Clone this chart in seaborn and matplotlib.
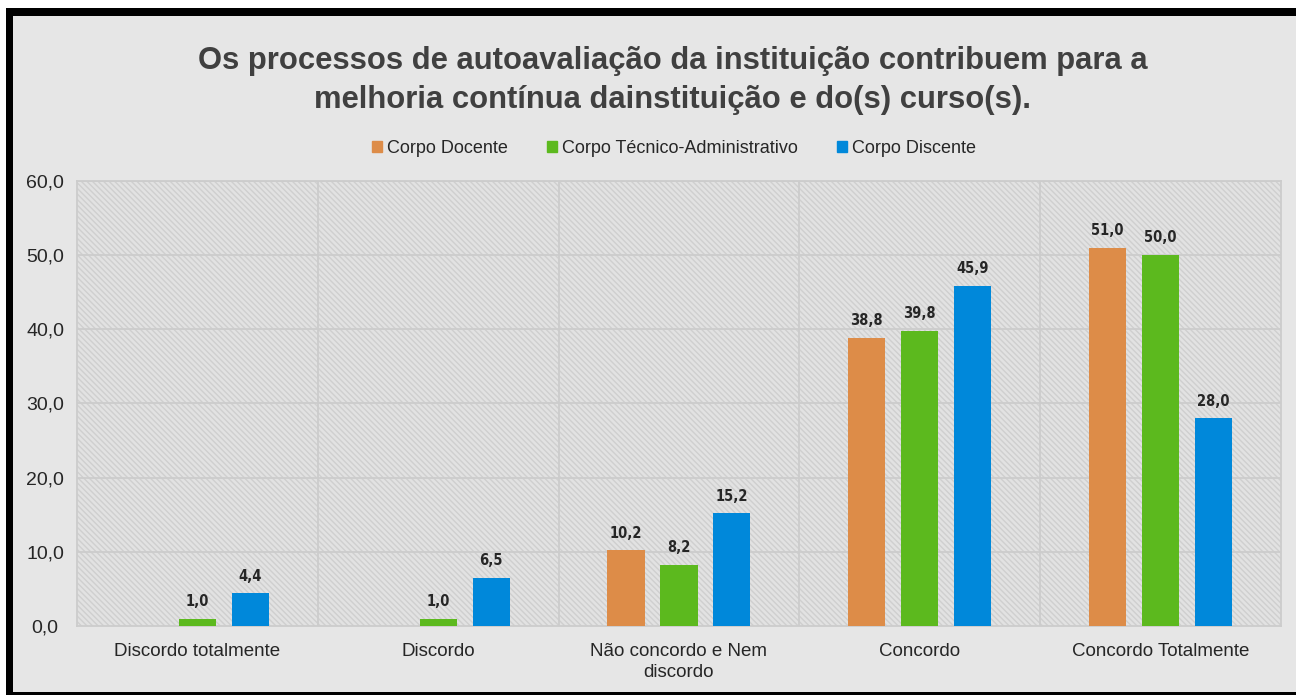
import matplotlib
matplotlib.use("Agg")
import matplotlib.pyplot as plt
from matplotlib.patches import Rectangle
import numpy as np
import pandas as pd
import seaborn as sns

categorias = ["Discordo totalmente", "Discordo", "Não concordo e Nem\ndiscordo",
              "Concordo", "Concordo Totalmente"]
grupos = ["Corpo Docente", "Corpo Técnico-Administrativo", "Corpo Discente"]
docente = [np.nan, np.nan, 10.2, 38.8, 51.0]
tecnico = [1.0, 1.0, 8.2, 39.8, 50.0]
discente = [4.4, 6.5, 15.2, 45.9, 28.0]
cores = ["#dd8c48", "#5cb91e", "#0088da"]
titulo = ("Os processos de autoavaliação da instituição contribuem para a\n"
          "melhoria contínua dainstituição e do(s) curso(s).")

df = pd.DataFrame({
    "Categoria": categorias * 3,
    "Grupo": [g for g in grupos for _ in categorias],
    "Valor": docente + tecnico + discente,
})

sns.set_style("white")
plt.rcParams["font.family"] = ["Liberation Sans Narrow", "Liberation Sans", "DejaVu Sans"]
plt.rcParams["hatch.color"] = "#cfcfcf"
plt.rcParams["hatch.linewidth"] = 1.0

fig = plt.figure(figsize=(12.96, 6.95), dpi=100)
fig.patch.set_facecolor("white")
# fundo cinza com moldura preta
fig.patches.append(Rectangle((0.0085, 0.0), 0.995, 0.978, transform=fig.transFigure,
                             facecolor="#e6e6e6", edgecolor="none", zorder=-2))
for r in [(0.0046, 0.9770, 1.0, 0.0115), (0.0046, 0.0, 0.0054, 0.988),
          (0.0046, 0.0, 1.0, 0.0045)]:
    fig.patches.append(Rectangle(r[:2], r[2], r[3], transform=fig.transFigure,
                                 facecolor="black", edgecolor="none", zorder=-1))

ax = fig.add_axes([0.0594, 0.0993, 0.9290, 0.6403])
ax.set_facecolor("#e2e2e2")
ax.add_patch(Rectangle((0, 0), 1, 1, transform=ax.transAxes, facecolor="#e2e2e2",
                       edgecolor="#cfcfcf", hatch="\\\\\\\\\\\\", linewidth=0, zorder=0))

sns.barplot(data=df, x="Categoria", y="Valor", hue="Grupo", palette=cores,
            width=0.66, gap=0.3, ax=ax, zorder=3, legend=False, saturation=1,
            linewidth=0)

ax.set_ylim(0, 60)
ax.set_xlim(-0.5, 4.5)
ax.set_yticks(np.arange(0, 61, 10))
ax.set_yticklabels([f"{v:.1f}".replace(".", ",") for v in np.arange(0, 61, 10)],
                   fontsize=14, color="#262626")
ax.tick_params(axis="x", labelsize=13.5, colors="#262626", length=0, pad=12)
ax.tick_params(axis="y", length=0, pad=23)
for lbl in ax.get_yticklabels():
    lbl.set_horizontalalignment("center")
for lbl in ax.get_xticklabels():
    lbl.set_linespacing(1.35)
ax.set_xlabel("")
ax.set_ylabel("")
for y in np.arange(10, 61, 10):
    ax.axhline(y, color="#cccccc", linewidth=1.3, zorder=1)
for x in np.arange(0.5, 4.5, 1):
    ax.axvline(x, color="#cccccc", linewidth=1.3, zorder=1)
for s in ax.spines.values():
    s.set_color("#cccccc")
    s.set_linewidth(1.3)

for cont in ax.containers:
    labels = ["" if np.isnan(v) else f"{v:.1f}".replace(".", ",") for v in cont.datavalues]
    ax.bar_label(cont, labels=labels, padding=7, fontsize=10.5, fontweight="bold",
                 color="#262626", family=["DejaVu Sans"], fontstretch="condensed")

fig.text(0.519, 0.884, titulo, ha="center", va="center", fontsize=22.3,
         fontweight="bold", color="#404040", linespacing=1.4,
         family=["Liberation Sans", "DejaVu Sans"])

handles = [Rectangle((0, 0), 1, 1, color=c) for c in cores]
fig.legend(handles, grupos, loc="center", bbox_to_anchor=(0.52, 0.787), ncol=3,
           frameon=False, fontsize=13, handlelength=0.55, handleheight=0.55,
           handletextpad=0.25, columnspacing=2.2)

fig.savefig("out.png", dpi=100, facecolor=fig.get_facecolor())
